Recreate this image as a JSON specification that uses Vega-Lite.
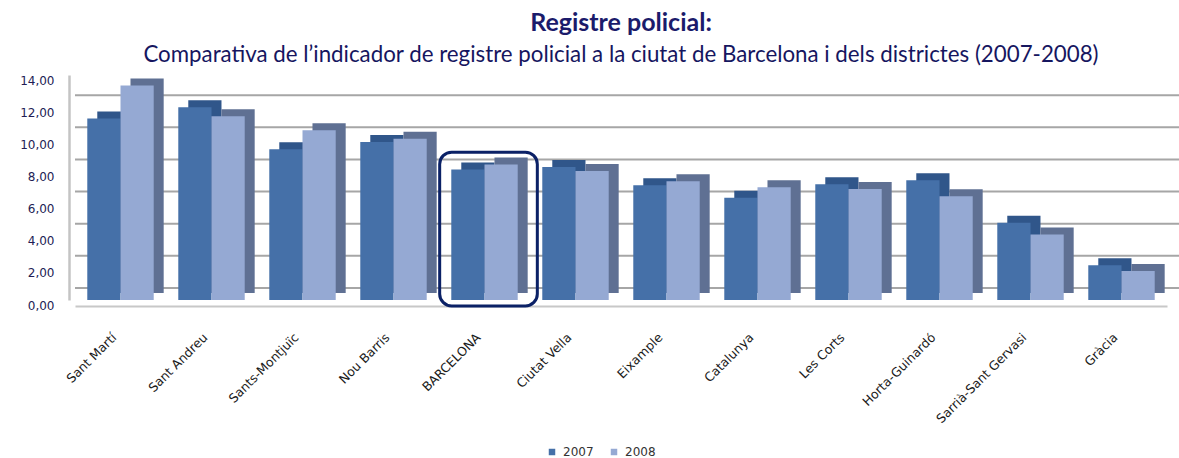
{
  "$schema": "https://vega.github.io/schema/vega-lite/v6.json",
  "width": 1092,
  "height": 225,
  "autosize": "none",
  "padding": {"left": 75, "top": 75, "right": 12, "bottom": 158},
  "background": "white",
  "title": {
    "text": "Registre policial:",
    "subtitle": "Comparativa de l’indicador de registre policial a la ciutat de Barcelona i dels districtes (2007-2008)",
    "anchor": "middle",
    "frame": "group",
    "font": "Lato",
    "fontSize": 25,
    "fontWeight": "bold",
    "color": "#1b1b6b",
    "subtitleFont": "Lato",
    "subtitleFontSize": 22.3,
    "subtitleColor": "#16165f",
    "subtitlePadding": 8,
    "offset": 8
  },
  "config": {
    "view": {"stroke": null},
    "axis": {"labelFont": "DejaVu Sans", "titleFont": "DejaVu Sans"},
    "axisY": {"labelOverlap": false, "tickCount": 8},
    "legend": {"labelFont": "DejaVu Sans"}
  },
  "datasets": {
    "grid": [{"g": 0}, {"g": 2}, {"g": 4}, {"g": 6}, {"g": 8}, {"g": 10}, {"g": 12}]
  },
  "layer": [
    {
      "data": {"name": "grid"},
      "mark": {"type": "rule", "color": "#a6a6a6", "strokeWidth": 2, "yOffset": -12, "xOffset": 20},
      "encoding": {
        "y": {
          "field": "g",
          "type": "quantitative",
          "scale": {"domain": [0, 14], "nice": false},
          "axis": {
            "title": null,
            "grid": false,
            "values": [0, 2, 4, 6, 8, 10, 12, 14],
            "tickCount": 8,
            "labelExpr": "replace(format(datum.value, '.2f'), '.', ',')",
            "labelFontSize": 12,
            "labelColor": "#221c54",
            "labelPadding": 15,
            "labelOffset": 5,
            "labelOverlap": false,
            "ticks": false,
            "offset": 6,
            "domainColor": "#c4c4c4",
            "domainWidth": 2.5
          }
        }
      }
    },
    {
      "data": {
        "values": [
          {"category": "Sant Martí", "year": "2007", "value": 11.3},
          {"category": "Sant Martí", "year": "2008", "value": 13.35},
          {"category": "Sant Andreu", "year": "2007", "value": 12.0},
          {"category": "Sant Andreu", "year": "2008", "value": 11.43},
          {"category": "Sants-Montjuïc", "year": "2007", "value": 9.38},
          {"category": "Sants-Montjuïc", "year": "2008", "value": 10.56},
          {"category": "Nou Barris", "year": "2007", "value": 9.83},
          {"category": "Nou Barris", "year": "2008", "value": 10.04},
          {"category": "BARCELONA", "year": "2007", "value": 8.12},
          {"category": "BARCELONA", "year": "2008", "value": 8.43},
          {"category": "Ciutat Vella", "year": "2007", "value": 8.28},
          {"category": "Ciutat Vella", "year": "2008", "value": 8.03},
          {"category": "Eixample", "year": "2007", "value": 7.14},
          {"category": "Eixample", "year": "2008", "value": 7.39},
          {"category": "Catalunya", "year": "2007", "value": 6.36},
          {"category": "Catalunya", "year": "2008", "value": 7.02},
          {"category": "Les Corts", "year": "2007", "value": 7.2},
          {"category": "Les Corts", "year": "2008", "value": 6.91},
          {"category": "Horta-Guinardó", "year": "2007", "value": 7.45},
          {"category": "Horta-Guinardó", "year": "2008", "value": 6.46},
          {"category": "Sarrià-Sant Gervasi", "year": "2007", "value": 4.8},
          {"category": "Sarrià-Sant Gervasi", "year": "2008", "value": 4.08},
          {"category": "Gràcia", "year": "2007", "value": 2.17},
          {"category": "Gràcia", "year": "2008", "value": 1.8}
        ]
      },
      "encoding": {
        "x": {
          "field": "category",
          "type": "nominal",
          "scale": {
            "domain": ["Sant Martí", "Sant Andreu", "Sants-Montjuïc", "Nou Barris", "BARCELONA", "Ciutat Vella", "Eixample", "Catalunya", "Les Corts", "Horta-Guinardó", "Sarrià-Sant Gervasi", "Gràcia"],
            "paddingInner": 0.27,
            "paddingOuter": 0.135
          },
          "axis": {
            "title": null,
            "labelAngle": -45,
            "labelAlign": "right",
            "labelBaseline": "middle",
            "labelFontSize": 12.5,
            "labelColor": "#1a1a1a",
            "labelPadding": 29,
            "labelOffset": -6,
            "labelOverlap": false,
            "ticks": false,
            "offset": 6,
            "domainColor": "#c8c8c8",
            "domainWidth": 2
          }
        },
        "y": {
          "field": "value",
          "type": "quantitative",
          "scale": {"domain": [0, 14], "nice": false},
          "axis": {
            "title": null,
            "grid": false,
            "values": [0, 2, 4, 6, 8, 10, 12, 14],
            "tickCount": 8,
            "labelExpr": "replace(format(datum.value, '.2f'), '.', ',')",
            "labelFontSize": 12,
            "labelColor": "#221c54",
            "labelPadding": 15,
            "labelOffset": 5,
            "labelOverlap": false,
            "ticks": false,
            "offset": 6,
            "domainColor": "#c4c4c4",
            "domainWidth": 2.5
          }
        }
      },
      "layer": [
        {
          "mark": {"type": "bar", "yOffset": -7},
          "encoding": {
            "xOffset": {"field": "year", "type": "nominal", "sort": ["2007", "2008"], "scale": {"range": [10, 76.4], "paddingInner": 0}},
            "color": {
              "condition": {"test": "datum.year === '2007'", "value": "#30568a"},
              "value": "#5f7093"
            }
          }
        },
        {
          "mark": {"type": "bar"},
          "encoding": {
            "xOffset": {"field": "year", "type": "nominal", "sort": ["2007", "2008"], "scale": {"paddingInner": 0}},
            "color": {
              "field": "year",
              "type": "nominal",
              "scale": {"domain": ["2007", "2008"], "range": ["#4570a8", "#95a9d3"]},
              "legend": {
                "title": null,
                "orient": "none",
                "legendX": 471,
                "legendY": 371,
                "direction": "horizontal",
                "symbolType": "square",
                "symbolSize": 42,
                "symbolStrokeWidth": 0,
                "labelFontSize": 12,
                "labelColor": "#333333",
                "columnPadding": 14,
                "labelOffset": 5
              }
            }
          }
        }
      ],
      "resolve": {"scale": {"xOffset": "independent"}}
    },
    {
      "data": {"values": [{"category": "BARCELONA", "top": 9.2, "bottom": -0.37}]},
      "mark": {"type": "bar", "fill": null, "stroke": "#0b2166", "strokeWidth": 3, "cornerRadius": 12, "width": {"band": 1.47}, "xOffset": 4},
      "encoding": {
        "x": {"field": "category", "type": "nominal"},
        "y": {"field": "top", "type": "quantitative"},
        "y2": {"field": "bottom"}
      }
    }
  ]
}
